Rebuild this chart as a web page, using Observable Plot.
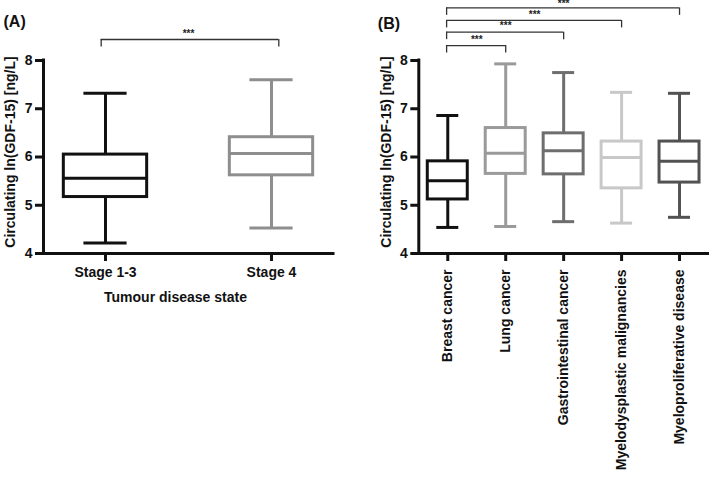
<!DOCTYPE html>
<html><head><meta charset="utf-8">
<script src="https://cdn.jsdelivr.net/npm/d3@7"></script>
<script src="https://cdn.jsdelivr.net/npm/@observablehq/plot@0.6"></script>
<style>
body{margin:0;background:#fff;}
#wrap{position:relative;width:709px;height:482px;overflow:hidden;font-family:"Liberation Sans",Arial,sans-serif;}
#a,#b{position:absolute;top:0;}
#a{left:0;} #b{left:360px;}
</style></head><body><div id="wrap"><div id="a"></div><div id="b"></div></div>
<script>
// Panel A data
const catsA = ["Stage 1-3", "Stage 4"];
const minA = [4.22, 4.53];
const q1A  = [5.17, 5.62];
const medA = [5.56, 6.07];
const q3A  = [6.05, 6.41];
const maxA = [7.32, 7.60];
const colorsA = ["#111111", "#8e8e8e"];
const compA = [{from: 0, to: 1, label: "***"}];

// Panel B data
const catsB = ["Breast cancer", "Lung cancer", "Gastrointestinal cancer", "Myelodysplastic malignancies", "Myeloproliferative disease"];
const minB = [4.54, 4.56, 4.66, 4.63, 4.75];
const q1B  = [5.12, 5.65, 5.64, 5.35, 5.47];
const medB = [5.51, 6.08, 6.13, 5.99, 5.91];
const q3B  = [5.91, 6.60, 6.49, 6.32, 6.32];
const maxB = [6.86, 7.93, 7.75, 7.34, 7.32];
const colorsB = ["#111111", "#9a9a9a", "#6e6e6e", "#c8c8c8", "#525252"];
const compB = [
  {from: 0, to: 1, label: "***"},
  {from: 0, to: 2, label: "***"},
  {from: 0, to: 3, label: "***"},
  {from: 0, to: 4, label: "***"}
];

const yTicks = [4, 5, 6, 7, 8];
const yLabel = "Circulating ln(GDF-15) [ng/L]";

function rowsOf(cats, mn, q1, md, q3, mx, cols) {
  return cats.map((c, i) => ({i, cat: c, min: mn[i], q1: q1[i], med: md[i], q3: q3[i], max: mx[i], color: cols[i]}));
}

function panel(o) {
  const rows = o.rows;
  const [x0, x1] = o.xDomain;
  const leg = 0.155;
  const bw = 1.3;
  return Plot.plot({
    width: o.width, height: 482,
    marginLeft: o.marginLeft, marginRight: o.marginRight, marginTop: 60, marginBottom: 229,
    x: {domain: o.xDomain, axis: null},
    y: {domain: [4, 8], axis: null},
    style: {fontFamily: "'Liberation Sans', Arial, sans-serif", fontWeight: "bold", color: "#111", background: "white", overflow: "visible"},
    marks: [
      // axis lines
      Plot.ruleX([x0], {y1: 4, y2: 8, stroke: "#111", strokeWidth: 3, strokeLinecap: "square"}),
      Plot.ruleY([4], {x1: x0, x2: x1, stroke: "#111", strokeWidth: 3, strokeLinecap: "square"}),
      Plot.axisY({ticks: yTicks, tickFormat: d => String(d), tickSize: 8, tickPadding: 3, fontSize: 14, fontWeight: "bold", strokeWidth: 3, label: null}),
      Plot.axisX({ticks: rows.map(r => r.i), tickFormat: i => o.cats[i], tickSize: 8, tickPadding: o.xTickPadding,
                  tickRotate: o.tickRotate, fontSize: 14, fontWeight: "bold", strokeWidth: 3, label: null}),
      // whiskers
      Plot.ruleX(rows, {x: "i", y1: "q3", y2: "max", stroke: "color", strokeWidth: 3}),
      Plot.ruleX(rows, {x: "i", y1: "min", y2: "q1", stroke: "color", strokeWidth: 3}),
      Plot.ruleY(rows, {x1: d => d.i - o.capHalf, x2: d => d.i + o.capHalf, y: "max", stroke: "color", strokeWidth: 3}),
      Plot.ruleY(rows, {x1: d => d.i - o.capHalf, x2: d => d.i + o.capHalf, y: "min", stroke: "color", strokeWidth: 3}),
      // boxes
      Plot.rect(rows, {x1: d => d.i - o.boxHalf, x2: d => d.i + o.boxHalf, y1: "q1", y2: "q3", fill: "white", stroke: "color", strokeWidth: 3}),
      Plot.ruleY(rows, {x1: d => d.i - o.boxHalf, x2: d => d.i + o.boxHalf, y: "med", stroke: "color", strokeWidth: 3}),
      // significance brackets
      Plot.ruleY(o.comps, {x1: d => d.from - o.padL, x2: d => d.to + o.padR, y: (d, k) => o.levels[k], stroke: "#333", strokeWidth: bw}),
      Plot.ruleX(o.comps, {x: d => d.from - o.padL, y1: (d, k) => o.levels[k], y2: (d, k) => o.levels[k] - leg, stroke: "#333", strokeWidth: bw}),
      Plot.ruleX(o.comps, {x: d => d.to + o.padR, y1: (d, k) => o.levels[k], y2: (d, k) => o.levels[k] - leg, stroke: "#333", strokeWidth: bw}),
      Plot.text(o.comps, {x: d => (d.from + d.to) / 2, y: (d, k) => o.starLevels[k], dy: -6, text: "label", fontSize: 10, fontWeight: "bold", fill: "#222"}),
      // y axis title
      Plot.text([yLabel], {text: d => d, frameAnchor: "left", textAnchor: "middle", rotate: -90, dx: o.yLabelDx, dy: -5, fontSize: 14, fontWeight: "bold"}),
      // panel letter
      Plot.text([o.letter], {text: d => d, frameAnchor: "top-left", dx: o.letterDx, dy: o.letterDy, textAnchor: "start", fontSize: 16, fontWeight: "bold"}),
      ...(o.xTitle ? [Plot.text([o.xTitle], {text: d => d, frameAnchor: "bottom", textAnchor: "middle", dx: -13, dy: 48, fontSize: 14, fontWeight: "bold"})] : [])
    ]
  });
}

document.getElementById("a").appendChild(panel({
  rows: rowsOf(catsA, minA, q1A, medA, q3A, maxA, colorsA),
  cats: catsA, width: 360, marginLeft: 43, marginRight: 27,
  xDomain: [-0.3735, 1.3735], boxHalf: 0.251, capHalf: 0.13,
  comps: compA, levels: [8.435], starLevels: [8.435], padL: 0.026, padR: 0.044,
  xTickPadding: 6, tickRotate: 0, yLabelDx: -33, letter: "(A)", letterDx: -40, letterDy: -45,
  xTitle: "Tumour disease state"
}));

document.getElementById("b").appendChild(panel({
  rows: rowsOf(catsB, minB, q1B, medB, q3B, maxB, colorsB),
  cats: catsB, width: 349, marginLeft: 58.3, marginRight: 1,
  xDomain: [-0.5, 4.5], boxHalf: 0.345, capHalf: 0.19,
  comps: compB, levels: [8.31, 8.587, 8.83, 9.09], starLevels: [8.31, 8.587, 8.83, 9.05], padL: 0.02, padR: 0.0,
  xTickPadding: 8, tickRotate: -90, yLabelDx: -32, letter: "(B)", letterDx: -41, letterDy: -43,
  xTitle: null
}));
</script>
</body></html>
